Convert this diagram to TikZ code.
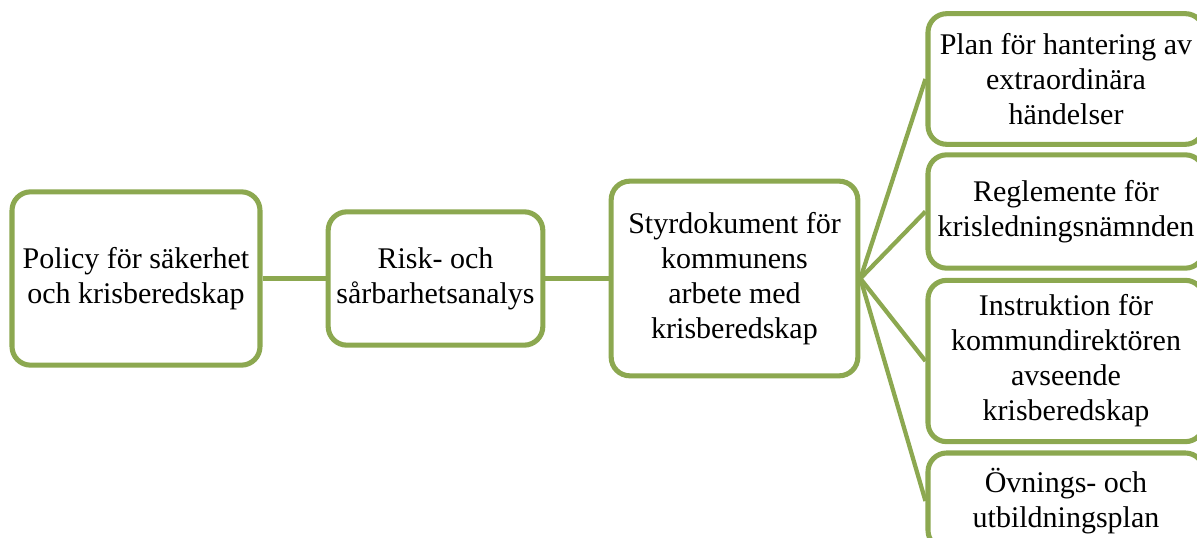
\documentclass[tikz,border=0pt]{standalone}
\usepackage{fontspec}
\setmainfont{Liberation Serif}
\usetikzlibrary{positioning}
\definecolor{boxgreen}{RGB}{140,168,80}

\begin{document}
\begin{tikzpicture}[x=0.75pt,y=-0.75pt,
    box/.style={draw=boxgreen,line width=3.8pt,rounded corners=14pt,fill=white,
      align=center,font=\fontsize{22.5}{26.3}\selectfont,inner sep=1pt},
    link/.style={draw=boxgreen,line width=3.2pt}]
      \useasboundingbox (0,0) rectangle (1197,538);
      \clip (0,0) rectangle (1197,538);

      \node[box,minimum width=186pt,minimum height=130pt] (policy) at (136,278.5)
        {Policy för säkerhet\\och krisberedskap};
      \node[box,minimum width=161pt,minimum height=100pt] (risk) at (435.5,278.5)
        {Risk- och\\sårbarhetsanalys};
      \node[box,minimum width=185pt,minimum height=146pt] (styr) at (734.5,278.5)
        {Styrdokument för\\kommunens\\arbete med\\krisberedskap};

      \node[box,minimum width=207pt,minimum height=98pt] (plan) at (1066,79)
        {Plan för hantering av\\extraordinära\\händelser};
      \node[box,minimum width=207pt,minimum height=85pt] (regl) at (1066,211.5)
        {Reglemente för\\krisledningsnämnden};
      \node[box,minimum width=207pt,minimum height=121pt] (instr) at (1066,361)
        {Instruktion för\\kommundirektören\\avseende\\krisberedskap};
      \node[box,minimum width=207pt,minimum height=72pt] (ovn) at (1066,501)
        {Övnings- och\\utbildningsplan};

      \draw[link] (policy.east) -- (risk.west);
      \draw[link] (risk.east) -- (styr.west);
      \foreach \n in {plan,regl,instr,ovn}
        \draw[link] (styr.east) -- (\n.west);
    \end{tikzpicture}
\end{document}
